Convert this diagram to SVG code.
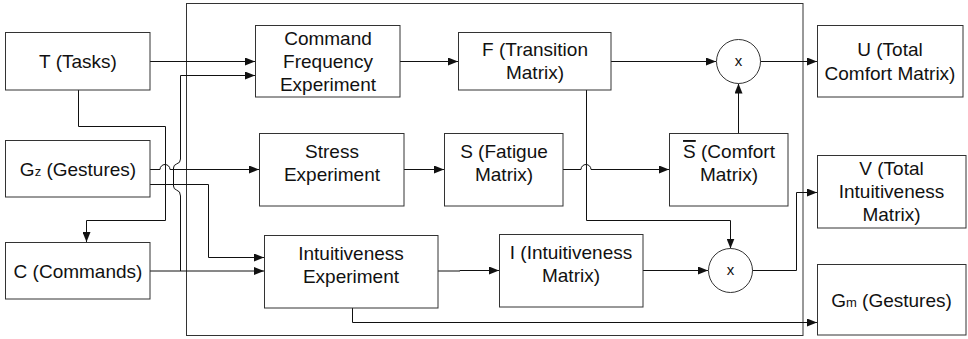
<svg xmlns="http://www.w3.org/2000/svg" width="968" height="339" viewBox="0 0 968 339">
<style>
.box{fill:#fff;stroke:#333;stroke-width:1}
.cont{fill:none;stroke:#333;stroke-width:1}
.t{font-family:"Liberation Sans",Arial,sans-serif;font-size:19px;fill:#111;text-anchor:middle}
.x{font-family:"Liberation Sans",Arial,sans-serif;font-size:15px;fill:#111;text-anchor:middle}
.c{fill:none;stroke:#111;stroke-width:1}
.a{marker-end:url(#ah)}
.sub{font-size:13px}
</style>
<defs>
<marker id="ah" markerWidth="10" markerHeight="8" refX="10" refY="4" orient="auto" markerUnits="userSpaceOnUse">
<path d="M0,0 L10,4 L0,8 Z" fill="#111"/>
</marker>
</defs>
<rect id="container" class="cont" x="186.5" y="3.5" width="616.5" height="332"/>
<g id="connectors">
<path class="c a" d="M150,61.5 H255"/>
<path class="c a" d="M180.5,271 V196 Q180.5,191 176.5,190 Q173.5,189 173.5,186 V168 Q173.5,165 176.5,164 Q180.5,163 180.5,159 V75.5 H255"/>
<path class="c a" d="M150,271 H264"/>
<path class="c a" d="M150,169.5 H160 A5,5 0 0 1 170,169.5 H259"/>
<path class="c a" d="M150,184.5 H208.5 V257.5 H264"/>
<path class="c a" d="M78.5,90 V126.5 H165.5 V220.5 H86.5 V242"/>
<path class="c a" d="M400,61.5 H458"/>
<path class="c a" d="M611,61.5 H716"/>
<path class="c a" d="M760,61.5 H817"/>
<path class="c a" d="M738.5,133 V83.5"/>
<path class="c a" d="M404,169.5 H444"/>
<path class="c a" d="M563,169.5 H581 A5,5 0 0 1 591,169.5 H669"/>
<path class="c a" d="M586.5,90 V220.5 H730.5 V248.5"/>
<path class="c a" d="M438,271 H460 V270.5 H499"/>
<path class="c a" d="M643,270.5 H708"/>
<path class="c a" d="M752,270.5 H796.5 V192.5 H817"/>
<path class="c a" d="M352.5,308 V322.5 H817"/>
</g>
<g id="tasks">
<rect class="box" x="5.5" y="32.5" width="144.5" height="57.5"/>
<text class="t" x="78" y="68">T (Tasks)</text>
</g>
<g id="gestures-z">
<rect class="box" x="5.5" y="140.5" width="144.5" height="56.5"/>
<text class="t" x="78" y="176">G<tspan class="sub">z</tspan> (Gestures)</text>
</g>
<g id="commands">
<rect class="box" x="5.5" y="242.5" width="144.5" height="56.5"/>
<text class="t" x="78" y="278">C (Commands)</text>
</g>
<g id="cfe">
<rect class="box" x="255.5" y="25.5" width="144.5" height="71.5"/>
<text class="t" x="328" y="45">Command</text>
<text class="t" x="328" y="68">Frequency</text>
<text class="t" x="328" y="91">Experiment</text>
</g>
<g id="stress">
<rect class="box" x="259.5" y="133.5" width="144.5" height="72.5"/>
<text class="t" x="332" y="158">Stress</text>
<text class="t" x="332" y="181">Experiment</text>
</g>
<g id="ie">
<rect class="box" x="264.5" y="235.5" width="173.5" height="72.5"/>
<text class="t" x="351" y="260">Intuitiveness</text>
<text class="t" x="351" y="283">Experiment</text>
</g>
<g id="f">
<rect class="box" x="458.5" y="32.5" width="152.5" height="57.5"/>
<text class="t" x="535" y="56">F (Transition</text>
<text class="t" x="535" y="79">Matrix)</text>
</g>
<g id="s">
<rect class="box" x="444.5" y="133.5" width="118.5" height="72.5"/>
<text class="t" x="504" y="158">S (Fatigue</text>
<text class="t" x="504" y="181">Matrix)</text>
</g>
<g id="i">
<rect class="box" x="499.5" y="234.5" width="143.5" height="72.5"/>
<text class="t" x="571" y="259">I (Intuitiveness</text>
<text class="t" x="571" y="282">Matrix)</text>
</g>
<g id="sbar">
<rect class="box" x="669.5" y="133.5" width="118.5" height="72.5"/>
<text class="t" x="729" y="158"><tspan text-decoration="overline">S</tspan> (Comfort</text>
<text class="t" x="729" y="181">Matrix)</text>
</g>
<g id="mul1">
<circle class="box" cx="738.5" cy="61.5" r="22"/>
<text class="x" x="738.5" y="66">x</text>
</g>
<g id="mul2">
<circle class="box" cx="730.5" cy="270.5" r="22"/>
<text class="x" x="730.5" y="275">x</text>
</g>
<g id="u">
<rect class="box" x="817.5" y="25.5" width="145.5" height="71.5"/>
<text class="t" x="890" y="56">U (Total</text>
<text class="t" x="890" y="80">Comfort Matrix)</text>
</g>
<g id="v">
<rect class="box" x="817.5" y="155.5" width="148.5" height="72.5"/>
<text class="t" x="891.5" y="175">V (Total</text>
<text class="t" x="891.5" y="198">Intuitiveness</text>
<text class="t" x="891.5" y="221">Matrix)</text>
</g>
<g id="gestures-m">
<rect class="box" x="817.5" y="264.5" width="148.5" height="70.5"/>
<text class="t" x="891.5" y="307">G<tspan class="sub">m</tspan> (Gestures)</text>
</g>
</svg>
